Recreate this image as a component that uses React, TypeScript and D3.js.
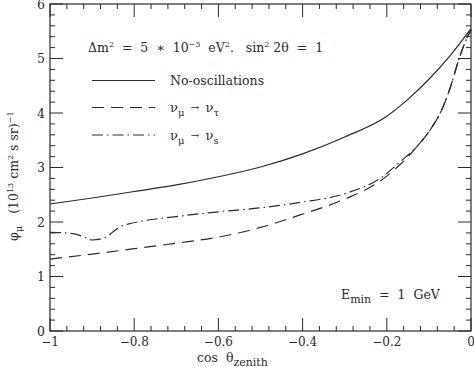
import React from "react";
import * as d3 from "d3";

const noOscCos = [-1, -0.9, -0.8, -0.7, -0.6, -0.5, -0.4, -0.3, -0.2, -0.15, -0.1, -0.05, 0];
const noOscFlux = [2.33, 2.44, 2.56, 2.68, 2.83, 3.01, 3.25, 3.56, 3.94, 4.25, 4.62, 5.05, 5.55];

const tauCos = [-1, -0.9, -0.8, -0.7, -0.596, -0.5, -0.406, -0.3, -0.216, -0.169, -0.129, -0.097, -0.066, -0.05, -0.026, -0.007, 0];
const tauFlux = [1.32, 1.41, 1.51, 1.61, 1.73, 1.9, 2.13, 2.42, 2.75, 3.05, 3.38, 3.69, 4.12, 4.45, 5.05, 5.42, 5.52];

const sterileCos = [-1, -0.95, -0.92, -0.9, -0.87, -0.85, -0.834, -0.81, -0.786, -0.7, -0.596, -0.5, -0.406, -0.3, -0.216, -0.169, -0.129, -0.097, -0.066, -0.05, -0.026, -0.007, 0];
const sterileFlux = [1.81, 1.79, 1.73, 1.67, 1.71, 1.82, 1.91, 1.97, 2.01, 2.1, 2.19, 2.26, 2.36, 2.52, 2.8, 3.1, 3.38, 3.69, 4.12, 4.45, 5.05, 5.42, 5.52];

const xMajorTicks = [-1, -0.8, -0.6, -0.4, -0.2, 0];
const xTickLabels = ["\u22121", "\u22120.8", "\u22120.6", "\u22120.4", "\u22120.2", "0"];
const yMajorTicks = [0, 1, 2, 3, 4, 5, 6];
const yTickLabels = ["0", "1", "2", "3", "4", "5", "6"];

const L = 50, R = 471, T = 4, B = 331;
const ink = "#2a2a2a";
const serif = "'DejaVu Serif', serif";

export default function App() {
  const x = d3.scaleLinear().domain([-1, 0]).range([L, R]);
  const y = d3.scaleLinear().domain([0, 6]).range([B, T]);
  const line = d3
    .line<[number, number]>()
    .x((d) => x(d[0]))
    .y((d) => y(d[1]))
    .curve(d3.curveMonotoneX);

  const xMinor = d3.range(0, 26).map((i) => -1 + i * 0.04).filter((v) => Math.abs(Math.round(v * 5) - v * 5) > 1e-6);
  const yMinor = d3.range(0, 31).map((i) => i * 0.2).filter((v) => Math.abs(Math.round(v) - v) > 1e-6);

  const series = [
    { cos: noOscCos, flux: noOscFlux, dash: undefined as string | undefined },
    { cos: tauCos, flux: tauFlux, dash: "12,7" },
    { cos: sterileCos, flux: sterileFlux, dash: "11,4,1.5,4" },
  ];

  const major = 13, minor = 5;

  return (
    <svg width={474} height={367} style={{ position: "absolute", left: 0, top: 0, background: "#fff" }} fontFamily={serif}>
      <rect x={0} y={0} width={474} height={367} fill="#fff" />
      <rect x={L} y={T} width={R - L} height={B - T} fill="none" stroke={ink} strokeWidth={1.2} />
      {xMajorTicks.map((v) => (
        <g key={"xm" + v}>
          <line x1={x(v)} x2={x(v)} y1={B} y2={B - major} stroke={ink} />
          <line x1={x(v)} x2={x(v)} y1={T} y2={T + major} stroke={ink} />
        </g>
      ))}
      {xMinor.map((v, i) => (
        <g key={"xn" + i}>
          <line x1={x(v)} x2={x(v)} y1={B} y2={B - minor} stroke={ink} />
          <line x1={x(v)} x2={x(v)} y1={T} y2={T + minor} stroke={ink} />
        </g>
      ))}
      {yMajorTicks.map((v) => (
        <g key={"ym" + v}>
          <line x1={L} x2={L + major} y1={y(v)} y2={y(v)} stroke={ink} />
          <line x1={R} x2={R - major} y1={y(v)} y2={y(v)} stroke={ink} />
        </g>
      ))}
      {yMinor.map((v, i) => (
        <g key={"yn" + i}>
          <line x1={L} x2={L + minor} y1={y(v)} y2={y(v)} stroke={ink} />
          <line x1={R} x2={R - minor} y1={y(v)} y2={y(v)} stroke={ink} />
        </g>
      ))}
      {xMajorTicks.map((v, i) => (
        <text key={"xl" + v} x={x(v)} y={346} textAnchor="middle" fontSize={12} fill={ink}>
          {xTickLabels[i]}
        </text>
      ))}
      {yMajorTicks.map((v, i) => (
        <text key={"yl" + v} x={45} y={y(v) + 4.5} textAnchor="end" fontSize={12.5} fill={ink}>
          {yTickLabels[i]}
        </text>
      ))}
      {series.map((s, i) => (
        <path
          key={"s" + i}
          d={line(s.cos.map((c, j) => [c, s.flux[j]] as [number, number])) || ""}
          fill="none"
          stroke={ink}
          strokeWidth={1.2}
          strokeDasharray={s.dash}
        />
      ))}
      <text x={88} y={52} fontSize={12.5} fill={ink} style={{ whiteSpace: "pre" }}>
        {"\u0394m"}
        <tspan dy={-5} fontSize={8}>2</tspan>
        <tspan dy={5}>{"  =  5  \u2217  10"}</tspan>
        <tspan dy={-5} fontSize={8}>{"\u22123"}</tspan>
        <tspan dy={5}>{"  eV"}</tspan>
        <tspan dy={-5} fontSize={8}>2</tspan>
        <tspan dy={5}>{".   sin"}</tspan>
        <tspan dy={-5} fontSize={8}>2</tspan>
        <tspan dy={5}>{" 2\u03b8  =  1"}</tspan>
      </text>
      <line x1={92} x2={155} y1={80.5} y2={80.5} stroke={ink} strokeWidth={1.2} />
      <text x={170} y={85} fontSize={12.5} fill={ink}>No-oscillations</text>
      <line x1={92} x2={155} y1={107.5} y2={107.5} stroke={ink} strokeWidth={1.2} strokeDasharray="12,7" />
      <text x={170} y={112} fontSize={13} fill={ink} style={{ whiteSpace: "pre" }}>
        {"\u03bd"}
        <tspan dy={4} fontSize={10}>{"\u03bc"}</tspan>
        <tspan dy={-5} fontSize={10}>{"  \u2192  "}</tspan>
        <tspan dy={1} fontSize={13}>{"\u03bd"}</tspan>
        <tspan dy={4} fontSize={10}>{"\u03c4"}</tspan>
      </text>
      <line x1={92} x2={155} y1={135} y2={135} stroke={ink} strokeWidth={1.2} strokeDasharray="11,4,1.5,4" />
      <text x={170} y={139.5} fontSize={13} fill={ink} style={{ whiteSpace: "pre" }}>
        {"\u03bd"}
        <tspan dy={4} fontSize={10}>{"\u03bc"}</tspan>
        <tspan dy={-5} fontSize={10}>{"  \u2192  "}</tspan>
        <tspan dy={1} fontSize={13}>{"\u03bd"}</tspan>
        <tspan dy={4} fontSize={10}>s</tspan>
      </text>
      <text x={341} y={299} fontSize={12.5} fill={ink} style={{ whiteSpace: "pre" }}>
        E
        <tspan dy={4} fontSize={11}>min</tspan>
        <tspan dy={-4}>{"  =  1  GeV"}</tspan>
      </text>
      <text x={197} y={362} fontSize={12.5} fill={ink} style={{ whiteSpace: "pre" }}>
        {"cos  \u03b8"}
        <tspan dy={4} fontSize={11}>zenith</tspan>
      </text>
      <text transform="translate(18,241) rotate(-90)" fontSize={12.5} fill={ink} style={{ whiteSpace: "pre" }}>
        {"\u03c6"}
        <tspan dy={4} fontSize={10}>{"\u03bc"}</tspan>
        <tspan dy={-4}>{"   (10"}</tspan>
        <tspan dy={-5} fontSize={8}>13</tspan>
        <tspan dy={5}>{" cm"}</tspan>
        <tspan dy={-5} fontSize={8}>2</tspan>
        <tspan dy={5}>{" s sr)"}</tspan>
        <tspan dy={-5} fontSize={8}>{"\u22121"}</tspan>
      </text>
    </svg>
  );
}
